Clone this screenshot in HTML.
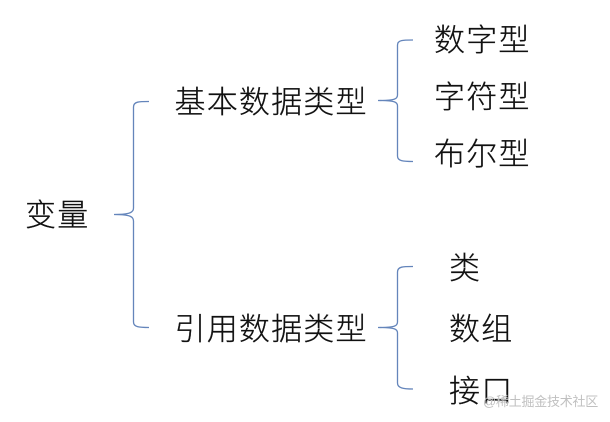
<!DOCTYPE html>
<html><head><meta charset="utf-8">
<style>
html,body{margin:0;padding:0;background:#fff}
#c{position:relative;width:610px;height:422px;overflow:hidden;background:#fff;font-family:"Liberation Sans","Noto Sans CJK SC",sans-serif;color:#111}
.t{position:absolute;font-size:31px;line-height:40px;white-space:nowrap;letter-spacing:1.2px;font-weight:300;-webkit-text-stroke:.25px #111}
.w{position:absolute;font-size:13px;line-height:16px;color:#c0c0c0;white-space:nowrap;left:483px;top:394px;letter-spacing:-.25px}
svg{position:absolute;left:0;top:0}
path{fill:none;stroke:#6485bb;stroke-width:1.3}
</style></head><body>
<div id="c">
<svg width="610" height="422">
<path d="M149 101.500 C139 101.500 133.500 101.500 133.500 107 L133.500 208 C133.500 212 131 214.500 114 214.500 C131 214.500 133.500 217 133.500 221 L133.500 322 C133.500 327 139 327.500 149 327.500"/>
<path d="M413 40 C403 40 397.500 40 397.500 45 L397.500 95 C397.500 99 395 100.500 378 100.500 C395 100.500 397.500 102 397.500 106 L397.500 156 C397.500 161 403 161.500 413 161.500"/>
<path d="M413 266.500 C403 266.500 397.500 266.500 397.500 272 L397.500 322 C397.500 326 395 327.500 378 327.500 C395 327.500 397.500 329 397.500 333 L397.500 383 C397.500 388 403 389 413 389"/>
</svg>
<div class="t" style="left:25px;top:196px">变量</div>
<div class="t" style="left:174.500px;top:83px">基本数据类型</div>
<div class="t" style="left:174.500px;top:310px">引用数据类型</div>
<div class="t" style="left:434px;top:21px">数字型</div>
<div class="t" style="left:434px;top:78px">字符型</div>
<div class="t" style="left:434px;top:135px">布尔型</div>
<div class="t" style="left:449px;top:249px">类</div>
<div class="t" style="left:449px;top:310px">数组</div>
<div class="t" style="left:449px;top:372px">接口</div>
<div class="w">@稀土掘金技术社区</div>
</div>
</body></html>
